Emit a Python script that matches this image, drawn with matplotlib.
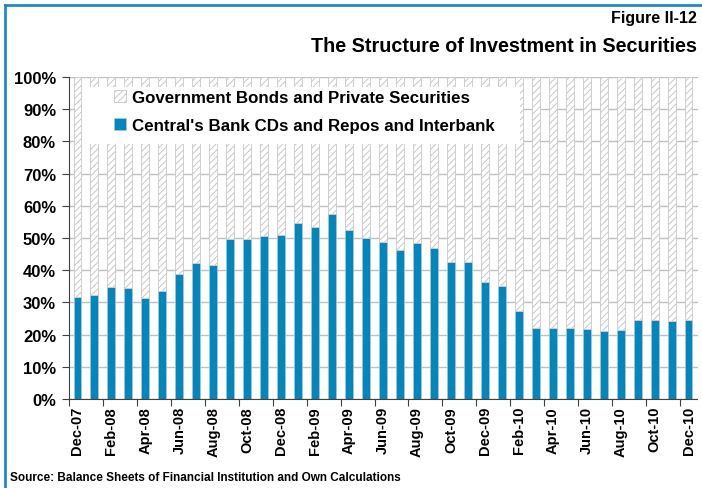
import numpy as np
import matplotlib.pyplot as plt
from matplotlib.patches import Rectangle
from matplotlib.lines import Line2D

# data (share of investment in securities, %)
months = ["Dec-07", "Jan-08", "Feb-08", "Mar-08", "Apr-08", "May-08", "Jun-08",
          "Jul-08", "Aug-08", "Sep-08", "Oct-08", "Nov-08", "Dec-08", "Jan-09",
          "Feb-09", "Mar-09", "Apr-09", "May-09", "Jun-09", "Jul-09", "Aug-09",
          "Sep-09", "Oct-09", "Nov-09", "Dec-09", "Jan-10", "Feb-10", "Mar-10",
          "Apr-10", "May-10", "Jun-10", "Jul-10", "Aug-10", "Sep-10", "Oct-10",
          "Nov-10", "Dec-10"]
central_bank = [31.6, 32.4, 34.7, 34.4, 31.5, 33.4, 38.9, 42.1, 41.7, 49.6,
                49.6, 50.5, 50.8, 54.6, 53.5, 57.4, 52.5, 50.0, 48.9, 46.4,
                48.4, 47.0, 42.6, 42.6, 36.2, 35.1, 27.4, 22.0, 22.1, 22.0,
                21.7, 21.2, 21.5, 24.6, 24.6, 24.3, 24.5]
government = [100 - v for v in central_bank]
y_ticks = [0, 10, 20, 30, 40, 50, 60, 70, 80, 90, 100]

blue = "#0088be"
grey = "#c8c8c8"
arial = "Liberation Sans"

plt.rcParams["hatch.linewidth"] = 0.7

fig = plt.figure(figsize=(7.02, 4.89), dpi=100)
ax = fig.add_axes([68.5 / 702, 1 - 400 / 489, 629 / 702, 322 / 489])

x = np.arange(len(months))
ax.bar(x, central_bank, width=0.47, color=blue, edgecolor="#a9c2cf",
       linewidth=0.6, label="Central's Bank CDs and Repos and Interbank", zorder=2)
ax.bar(x, government, width=0.47, bottom=central_bank, color="white",
       edgecolor=grey, hatch="/////", linewidth=0.6,
       label="Government Bonds and Private Securities", zorder=2)

ax.set_xlim(-0.53, len(months) - 0.47)
ax.set_ylim(0, 100)

# y axis
ax.set_yticks(y_ticks)
ax.set_yticklabels([f"{v}%" for v in y_ticks], fontfamily=arial,
                   fontweight="bold", fontsize=12)
ax.yaxis.grid(True, color="#c0c0c0", linewidth=1)
ax.set_axisbelow(True)
ax.tick_params(axis="y", length=5, color="#404040", pad=4)

# x axis: tick marks between groups, labels every other month
ax.set_xticks(np.arange(-0.5, len(months) - 1, 2))
ax.set_xticklabels([])
ax.set_xticks(x[::2], minor=True)
ax.set_xticklabels(months[::2], minor=True, rotation=90, fontfamily=arial,
                   fontweight="bold", fontsize=10.5)
ax.tick_params(axis="x", which="major", length=5, color="#404040")
ax.tick_params(axis="x", which="minor", length=0, pad=5)

for side in ["top", "right"]:
    ax.spines[side].set_visible(False)
for side in ["left", "bottom"]:
    ax.spines[side].set_color("#404040")

# legend on a white box
ax.add_patch(Rectangle((0.0215, 0.792), 0.697, 0.177, transform=ax.transAxes,
                       facecolor="white", edgecolor="none", zorder=3))
handles, labels = ax.get_legend_handles_labels()
leg = ax.legend(handles[::-1], labels[::-1], loc="upper left",
                bbox_to_anchor=(0.072, 0.96), frameon=False, borderpad=0,
                borderaxespad=0, handlelength=0.75, handleheight=0.75,
                handletextpad=0.35, labelspacing=0.75,
                prop={"family": arial, "weight": "bold", "size": 12.2})
leg.set_zorder(4)

# titles and source
fig.text(697 / 702, 1 - 18 / 489, "Figure II-12", ha="right", va="center",
         fontfamily=arial, fontweight="bold", fontsize=11.5)
fig.text(697 / 702, 1 - 46 / 489, "The Structure of Investment in Securities",
         ha="right", va="center", fontfamily=arial, fontweight="bold",
         fontsize=14.2)
fig.text(10 / 702, 1 - 478 / 489,
         "Source: Balance Sheets of Financial Institution and Own Calculations",
         ha="left", va="center", fontfamily=arial, fontweight="bold",
         fontsize=8.5)

# blue frame (left and top edges)
fig.add_artist(Line2D([5 / 702, 5 / 702], [0, 1 - 6 / 489],
                      transform=fig.transFigure, color="#1b8ccb", linewidth=2))
fig.add_artist(Line2D([5 / 702, 1], [1 - 6 / 489, 1 - 6 / 489],
                      transform=fig.transFigure, color="#1b8ccb", linewidth=2))

fig.savefig("out.png", dpi=100)
